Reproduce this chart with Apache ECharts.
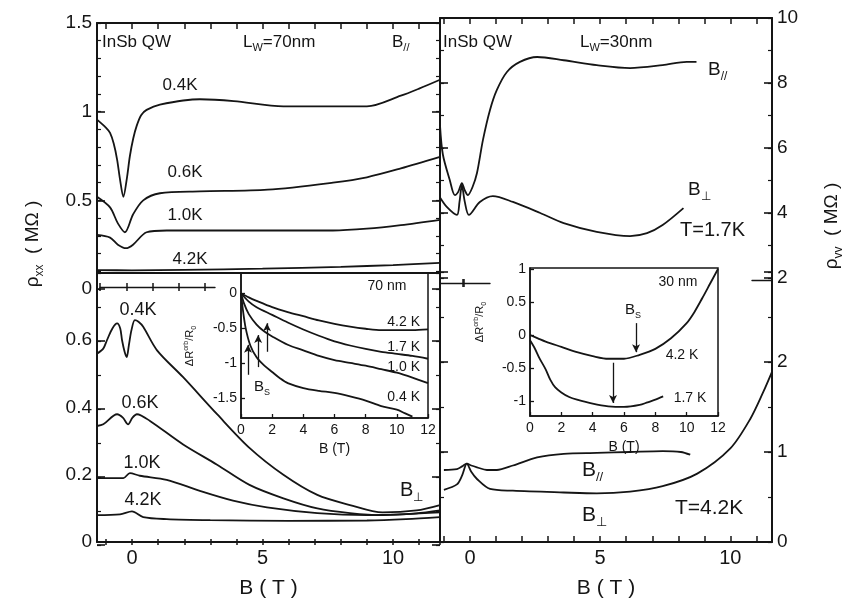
<!DOCTYPE html>
<html>
<head>
<meta charset="utf-8">
<script src="https://cdn.jsdelivr.net/npm/echarts@6/dist/echarts.min.js"></script>
<style>
  html, body { margin: 0; padding: 0; background: #fff; }
  #chart { width: 842px; height: 600px; }
</style>
</head>
<body>
<div id="chart"></div>
<script>
// ---- data: [B (T), value] ----
// upper left, Lw = 70 nm, B parallel (rho_xx, MOhm)
const tl04 = [[-1.34,0.955],[-1.0,0.91],[-0.84,0.88],[-0.7,0.82],[-0.57,0.73],[-0.46,0.62],[-0.33,0.52],[-0.2,0.62],[-0.08,0.75],[0.05,0.85],[0.18,0.92],[0.35,0.98],[0.56,1.01],[1.07,1.04],[2.6,1.07],[3.9,1.06],[5.8,1.03],[7.7,1.03],[9.0,1.03],[10.3,1.09],[11.0,1.13],[11.8,1.18]];
const tl06 = [[-1.34,0.52],[-0.84,0.46],[-0.54,0.37],[-0.27,0.32],[0.04,0.42],[0.43,0.50],[1.07,0.54],[2.6,0.55],[5.2,0.56],[7.7,0.6],[9.0,0.63],[10.3,0.68],[11.8,0.745]];
const tl10 = [[-1.34,0.305],[-0.84,0.29],[-0.54,0.25],[-0.23,0.23],[0.04,0.25],[0.56,0.32],[1.33,0.33],[3.9,0.33],[7.7,0.33],[9.0,0.34],[10.3,0.36],[11.8,0.39]];
const tl42 = [[-1.34,0.107],[0,0.105],[2,0.108],[5,0.115],[8,0.125],[10,0.135],[11.8,0.147]];

// upper right, Lw = 30 nm, T = 1.7 K (rho_yy, MOhm)
const trPar = [[-1.15,6.7],[-1.04,5.8],[-0.77,5.0],[-0.58,4.55],[-0.45,4.65],[-0.31,4.92],[-0.2,4.7],[-0.08,4.55],[0.1,4.8],[0.27,5.23],[0.5,6.25],[0.77,7.17],[1.03,7.78],[1.42,8.34],[1.92,8.65],[2.58,8.8],[3.6,8.7],[4.87,8.55],[6.15,8.46],[7.4,8.55],[8.33,8.65],[8.7,8.65]];
const trPerp = [[-1.15,4.48],[-0.88,4.18],[-0.5,3.94],[-0.4,4.35],[-0.31,4.86],[-0.2,4.35],[-0.04,3.94],[0.38,4.34],[0.88,4.52],[1.65,4.34],[2.7,4.0],[3.6,3.69],[4.87,3.42],[6.15,3.29],[6.8,3.38],[7.4,3.63],[8.2,4.15]];

// lower left, Lw = 70 nm, B perpendicular
const bl04 = [[-1.34,0.56],[-1.1,0.575],[-0.96,0.6],[-0.75,0.635],[-0.57,0.65],[-0.45,0.635],[-0.38,0.6],[-0.28,0.565],[-0.2,0.55],[-0.12,0.585],[-0.02,0.63],[0.11,0.66],[0.25,0.655],[0.43,0.64],[0.96,0.57],[1.96,0.49],[3.26,0.38],[4.5,0.28],[5.8,0.2],[7.1,0.14],[8.35,0.11],[9.6,0.088],[10.9,0.094],[11.8,0.11]];
const bl06 = [[-1.34,0.345],[-1.1,0.35],[-0.57,0.38],[-0.35,0.37],[-0.15,0.35],[0.02,0.37],[0.19,0.38],[0.69,0.36],[1.96,0.29],[3.26,0.23],[4.5,0.17],[5.8,0.13],[7.1,0.10],[8.35,0.086],[9.6,0.08],[10.9,0.085],[11.8,0.094]];
const bl10 = [[-1.34,0.19],[-0.33,0.19],[-0.08,0.205],[0.3,0.197],[1.33,0.185],[2.6,0.152],[3.87,0.123],[5.17,0.103],[7.1,0.086],[9.0,0.08],[10.5,0.083],[11.8,0.088]];
const bl42 = [[-1.34,0.08],[-0.46,0.082],[0,0.091],[0.43,0.074],[1.33,0.068],[3,0.065],[6,0.063],[9,0.064],[10.5,0.068],[11.8,0.074]];

// lower right, Lw = 30 nm, T = 4.2 K
const brPar = [[-1.0,0.8],[-0.5,0.81],[-0.3,0.84],[-0.12,0.87],[0.05,0.85],[0.27,0.83],[0.65,0.8],[1.03,0.8],[1.65,0.85],[2.58,0.94],[3.6,0.98],[4.87,0.99],[6.15,1.0],[7.4,1.01],[8.1,1.0],[8.46,0.97]];
const brPerp = [[-1.0,0.58],[-0.5,0.64],[-0.3,0.74],[-0.12,0.87],[0.05,0.78],[0.27,0.7],[0.77,0.59],[1.65,0.57],[3.6,0.55],[4.87,0.54],[6.15,0.56],[7.4,0.62],[8.73,0.76],[10.0,1.04],[10.77,1.37],[11.27,1.67],[11.6,1.89]];

// inset, 70 nm: dR_orb/R0 vs B
const in70k42 = [[0,0],[0.5,-0.06],[1,-0.11],[2,-0.2],[3,-0.27],[4,-0.33],[5,-0.39],[6,-0.44],[7,-0.48],[8,-0.51],[9,-0.53],[10,-0.53],[11,-0.53],[12,-0.52]];
const in70k17 = [[0,0],[0.5,-0.12],[1,-0.2],[2,-0.31],[3,-0.42],[4,-0.52],[5,-0.61],[6,-0.69],[7,-0.75],[8,-0.8],[9,-0.84],[10,-0.87],[11,-0.9],[12,-0.94]];
const in70k10 = [[0,0],[0.2,-0.15],[0.5,-0.3],[1,-0.45],[1.5,-0.55],[2,-0.62],[3,-0.74],[4,-0.82],[5,-0.9],[6,-0.96],[7,-1.0],[8,-1.04],[9,-1.09],[10,-1.14],[11,-1.21],[12,-1.29]];
const in70k04 = [[0,0],[0.1,-0.2],[0.3,-0.5],[0.6,-0.75],[1,-0.92],[1.5,-1.04],[2,-1.13],[2.5,-1.22],[3,-1.29],[4,-1.36],[5,-1.40],[6,-1.43],[7,-1.48],[8,-1.54],[9,-1.62],[10,-1.67],[10.5,-1.72],[11,-1.77]];
const arrows70 = [[0.45,-1.17,-0.74],[1.1,-1.06,-0.6],[1.67,-0.84,-0.43]]; // [B, from, to]

// inset, 30 nm
const in30k42 = [[0,0],[0.5,-0.05],[1,-0.1],[2,-0.18],[3,-0.26],[4,-0.32],[5,-0.36],[6,-0.36],[7,-0.3],[8,-0.21],[9,-0.05],[10,0.18],[10.5,0.35],[11,0.56],[11.5,0.78],[12,1.0]];
const in30k17 = [[0,-0.08],[0.3,-0.2],[0.6,-0.35],[1,-0.52],[1.3,-0.68],[1.6,-0.79],[2,-0.87],[2.5,-0.94],[3,-0.98],[4,-1.04],[5,-1.08],[6,-1.09],[7,-1.06],[7.5,-1.02],[8,-0.98],[8.5,-0.93]];
const arrows30 = [[6.77,0.18,-0.26],[5.3,-0.42,-1.03]];

// tick labels
const xLabels = [0, 5, 10];
const in70yLabels = [0, -0.5, -1, -1.5];
const in30yLabels = [1, 0.5, 0, -0.5, -1];

const FONT = '"Liberation Sans", Arial, sans-serif';
const INK = '#151515';
const axLine = (w) => ({ show: true, onZero: false, lineStyle: { color: INK, width: w || 2 } });

function line(data, xi, yi) {
    return {
        type: 'line', data: data, xAxisIndex: xi, yAxisIndex: yi,
        showSymbol: false, smooth: 0.3, silent: true,
        lineStyle: { color: INK, width: 1.8 }
    };
}

function arrowLines(list) {
    return {
        symbol: ['none', 'arrow'], symbolSize: [6, 8], silent: true, animation: false,
        lineStyle: { color: INK, width: 1.3, type: 'solid' },
        label: { show: false },
        data: list.map(a => [{ coord: [a[0], a[1]] }, { coord: [a[0], a[2]] }])
    };
}

function rich(size) {
    return {
        n: { fontSize: size, fontFamily: FONT, lineHeight: size * 1.35, fill: INK },
        s: { fontSize: Math.round(size * 0.62), fontFamily: FONT, verticalAlign: 'bottom', lineHeight: size * 0.7, fill: INK },
        p: { fontSize: Math.round(size * 0.6), fontFamily: FONT, verticalAlign: 'top', lineHeight: size * 0.7, fill: INK }
    };
}

function txt(x, y, text, size, align, rot) {
    return {
        type: 'text', x: x, y: y, rotation: rot || 0, z: 100,
        style: {
            text: text, fill: INK, font: size + 'px ' + FONT,
            textAlign: align || 'left', textVerticalAlign: 'middle', rich: rich(size)
        }
    };
}

function mainX(grid, min, max, pos, labels) {
    const ax = {
        gridIndex: grid, type: 'value', min: min, max: max, position: pos,
        axisLine: axLine(), axisTick: { show: false }, axisLabel: { show: false },
        splitLine: { show: false }
    };
    if (labels) {
        ax.axisLabel = { show: true, customValues: xLabels, fontSize: 20, fontFamily: FONT, color: INK, margin: 6 };
        ax.name = 'B ( T )';
        ax.nameLocation = 'middle';
        ax.nameGap = 36;
        ax.nameTextStyle = { fontSize: 21, fontFamily: FONT, color: INK };
    }
    return ax;
}

function mainY(grid, min, max, interval, pos, labels, hideTop) {
    return {
        gridIndex: grid, type: 'value', min: min, max: max, interval: interval, position: pos,
        axisLine: axLine(), axisTick: { show: false },
        axisLabel: labels ? {
            fontSize: 19, fontFamily: FONT, color: INK, margin: 5,
            formatter: v => (hideTop !== undefined && v >= hideTop) ? '' : String(v)
        } : { show: false },
        splitLine: { show: false }
    };
}

function insetX(grid) {
    return {
        gridIndex: grid, type: 'value', min: 0, max: 12, interval: 2,
        axisLine: axLine(1.5), axisTick: { show: false },
        axisLabel: { fontSize: 14, fontFamily: FONT, color: INK, margin: 5 },
        name: 'B (T)', nameLocation: 'middle', nameGap: 24,
        nameTextStyle: { fontSize: 14, fontFamily: FONT, color: INK },
        splitLine: { show: false }
    };
}

function insetY(grid, min, max, labels) {
    return {
        gridIndex: grid, type: 'value', min: min, max: max,
        axisLine: axLine(1.5), axisTick: { show: false },
        axisLabel: { customValues: labels, fontSize: 14, fontFamily: FONT, color: INK, margin: 4 },
        splitLine: { show: false }
    };
}

function stubX(grid, max, pos) {
    return {
        gridIndex: grid, type: 'value', min: 0, max: max, position: pos,
        axisLine: axLine(1.4), axisTick: { show: false },
        axisLabel: { show: false }, splitLine: { show: false }
    };
}
function hiddenAx(grid) {
    return { gridIndex: grid, type: 'value', min: 0, max: 1, show: false };
}

const option = {
    animation: false,
    grid: [
        { left: 97, top: 23, width: 343, height: 266 },   // 0 upper left
        { left: 440, top: 18, width: 332, height: 260 },  // 1 upper right
        { left: 97, top: 273, width: 343, height: 272 },  // 2 lower left
        { left: 440, top: 272, width: 332, height: 270 }, // 3 lower right
        { left: 241, top: 273, width: 187, height: 145, show: true, borderColor: INK, borderWidth: 1.5, backgroundColor: '#fff' }, // 4 inset 70
        { left: 530, top: 268, width: 188, height: 148, show: true, borderColor: INK, borderWidth: 1.5, backgroundColor: '#fff' }, // 5 inset 30
        { left: 100, top: 286, width: 115, height: 1 },   // 6 stub
        { left: 440, top: 282, width: 50, height: 1 },    // 7 stub
        { left: 752, top: 279, width: 20, height: 1 }     // 8 stub
    ],
    xAxis: [
        mainX(0, -1.34, 11.8, 'top', false),
        mainX(1, -1.15, 11.6, 'top', false),
        mainX(2, -1.34, 11.8, 'bottom', true),
        mainX(3, -1.15, 11.6, 'bottom', true),
        insetX(4),
        insetX(5),
        stubX(6, 4.4, 'bottom'),
        stubX(7, 50, 'bottom'),
        stubX(8, 20, 'bottom'),
        { gridIndex: 2, type: 'value', min: -1.34, max: 11.8, position: 'top', axisLine: axLine(), axisTick: { show: false }, axisLabel: { show: false }, splitLine: { show: false } }
    ],
    yAxis: [
        mainY(0, 0, 1.5, 0.5, 'left', true),
        mainY(0, 0, 1.5, 0.5, 'right', false),
        mainY(1, 2, 10, 2, 'right', true),
        mainY(1, 2, 10, 2, 'left', false),
        mainY(2, 0, 0.8, 0.2, 'left', true, 0.8),
        mainY(2, 0, 0.8, 0.2, 'right', false),
        mainY(3, 0, 3, 1, 'right', true, 3),
        mainY(3, 0, 3, 1, 'left', false),
        insetY(4, -1.79, 0.29, in70yLabels),
        insetY(5, -1.227, 1.015, in30yLabels),
        hiddenAx(6), hiddenAx(7), hiddenAx(8)
    ],
    series: [
        line(tl04, 0, 0), line(tl06, 0, 0), line(tl10, 0, 0), line(tl42, 0, 0),
        line(trPar, 1, 2), line(trPerp, 1, 2),
        line(bl04, 2, 4), line(bl06, 2, 4), line(bl10, 2, 4), line(bl42, 2, 4),
        line(brPar, 3, 6), line(brPerp, 3, 6),
        Object.assign(line(in70k42, 4, 8), { markLine: arrowLines(arrows70) }),
        line(in70k17, 4, 8), line(in70k10, 4, 8), line(in70k04, 4, 8),
        Object.assign(line(in30k42, 5, 9), { markLine: arrowLines(arrows30) }),
        line(in30k17, 5, 9)
    ],
    graphic: [
        // axis titles
        txt(33, 244, '{n|ρ}{s|xx}{n|  ( MΩ )}', 19, 'center', Math.PI / 2),
        txt(832, 226, '{n|ρ}{s|yy}{n|  ( MΩ )}', 19, 'center', Math.PI / 2),
        // upper left
        txt(102, 42, 'InSb QW', 17),
        txt(243, 42, '{n|L}{s|W}{n|=70nm}', 17),
        txt(392, 42, '{n|B}{s|//}', 17),
        txt(180, 85, '0.4K', 17, 'center'),
        txt(185, 172, '0.6K', 17, 'center'),
        txt(185, 215, '1.0K', 17, 'center'),
        txt(190, 259, '4.2K', 17, 'center'),
        // upper right
        txt(443, 42, 'InSb QW', 17),
        txt(580, 42, '{n|L}{s|W}{n|=30nm}', 17),
        txt(708, 70, '{n|B}{s|//}', 19),
        txt(688, 190, '{n|B}{s|⊥}', 19),
        txt(680, 230, 'T=1.7K', 20),
        // lower left
        txt(138, 310, '0.4K', 18, 'center'),
        txt(140, 403, '0.6K', 18, 'center'),
        txt(142, 463, '1.0K', 18, 'center'),
        txt(143, 500, '4.2K', 18, 'center'),
        txt(400, 490, '{n|B}{s|⊥}', 20),
        // lower right
        txt(582, 470, '{n|B}{s|//}', 21),
        txt(582, 515, '{n|B}{s|⊥}', 21),
        txt(675, 508, 'T=4.2K', 21),
        // inset 70 nm
        txt(190, 346, '{n|ΔR}{p|orb}{n|/R}{s|0}', 11, 'center', Math.PI / 2),
        txt(387, 286, '70 nm', 14, 'center'),
        txt(420, 322, '4.2 K', 14, 'right'),
        txt(420, 347, '1.7 K', 14, 'right'),
        txt(420, 367, '1.0 K', 14, 'right'),
        txt(420, 397, '0.4 K', 14, 'right'),
        txt(254, 387, '{n|B}{s|S}', 15),
        // inset 30 nm
        txt(480, 322, '{n|ΔR}{p|orb}{n|/R}{s|0}', 11, 'center', Math.PI / 2),
        txt(678, 282, '30 nm', 14, 'center'),
        txt(625, 310, '{n|B}{s|S}', 15),
        txt(682, 355, '4.2 K', 14, 'center'),
        txt(690, 398, '1.7 K', 14, 'center')
    ]
};

// Tick marks: thin strips along each frame whose split lines act as ticks.
// [left, top, width, height, direction, min, max, interval, line width]
const tickStrips = [
    // upper left: top edge, left and right edges (major + minor)
    [106, 23, 334, 6, 'x', -1, 11.8, 1, 1.5],
    [97, 23, 8, 266, 'y', 0, 1.5, 0.5, 1.6], [97, 23, 4, 266, 'y', 0, 1.5, 0.1, 1.2],
    [432, 23, 8, 266, 'y', 0, 1.5, 0.5, 1.6], [436, 23, 4, 266, 'y', 0, 1.5, 0.1, 1.2],
    // upper right
    [444, 18, 328, 6, 'x', -1, 11.6, 1, 1.5],
    [440, 18, 8, 260, 'y', 2, 10, 2, 1.6], [440, 18, 4, 260, 'y', 2, 10, 1, 1.2],
    [764, 18, 8, 260, 'y', 2, 10, 2, 1.6], [768, 18, 4, 260, 'y', 2, 10, 1, 1.2],
    // lower left
    [106, 539, 334, 6, 'x', -1, 11.8, 1, 1.5],
    [97, 273, 8, 272, 'y', 0, 0.8, 0.2, 1.6], [97, 273, 4, 272, 'y', 0, 0.8, 0.1, 1.2],
    [432, 273, 8, 272, 'y', 0, 0.8, 0.2, 1.6], [436, 273, 4, 272, 'y', 0, 0.8, 0.1, 1.2],
    // lower right
    [444, 536, 328, 6, 'x', -1, 11.6, 1, 1.5],
    [440, 272, 8, 270, 'y', 0, 3, 1, 1.6], [440, 272, 4, 270, 'y', 0, 3, 0.5, 1.2],
    [764, 272, 8, 270, 'y', 0, 3, 1, 1.6], [768, 272, 4, 270, 'y', 0, 3, 0.5, 1.2],
    // insets
    [241, 414, 187, 4, 'x', 0, 12, 2, 1.3],
    [241, 293, 4, 105, 'y', -1.5, 0, 0.5, 1.3],
    [530, 412, 188, 4, 'x', 0, 12, 2, 1.3],
    [530, 269, 4, 132, 'y', -1, 1, 0.5, 1.3],
    // broken-axis stubs (crossing ticks)
    [100, 283, 105, 8, 'x', 0, 4, 1, 1.5],
    [463, 279, 1, 8, 'x', 0, 1, 1, 1.5]
];

tickStrips.forEach(t => {
    const gi = option.grid.length;
    option.grid.push({ left: t[0], top: t[1], width: t[2], height: t[3] });
    const ticks = {
        gridIndex: gi, type: 'value', min: t[5], max: t[6], interval: t[7], show: true,
        axisLine: { show: false, onZero: false }, axisTick: { show: false }, axisLabel: { show: false },
        splitLine: { show: true, lineStyle: { color: INK, width: t[8] } }
    };
    if (t[4] === 'x') {
        option.xAxis.push(ticks);
        option.yAxis.push(hiddenAx(gi));
    } else {
        option.yAxis.push(ticks);
        option.xAxis.push(hiddenAx(gi));
    }
});

const myChart = echarts.init(document.getElementById('chart'), null, { renderer: 'canvas' });
myChart.setOption(option);
</script>
</body>
</html>
